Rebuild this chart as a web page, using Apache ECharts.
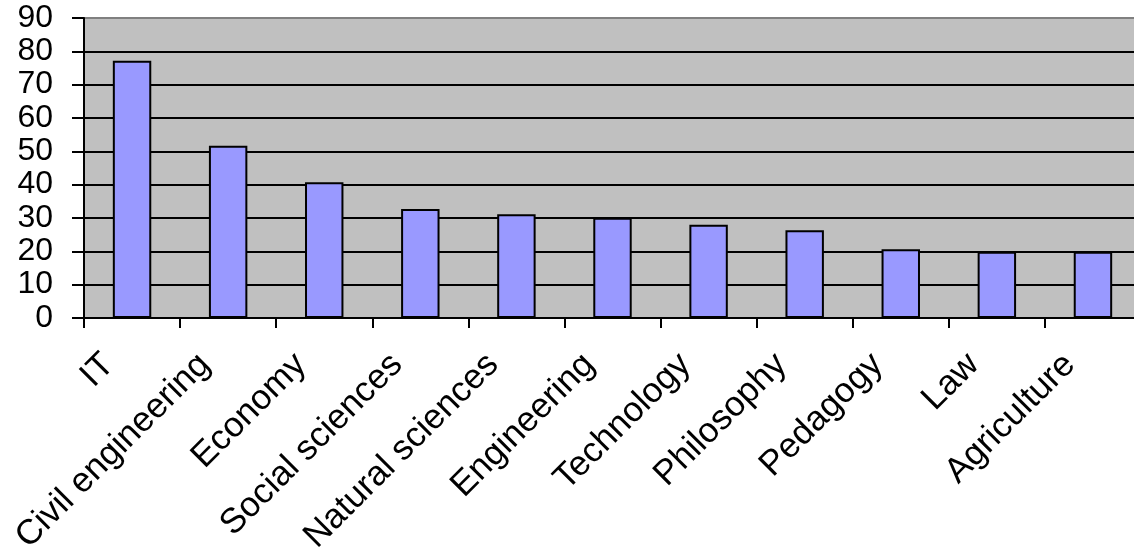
<!DOCTYPE html>
<html>
<head>
<meta charset="utf-8">
<script src="https://cdn.jsdelivr.net/npm/echarts@6/dist/echarts.min.js"></script>
<style>
  html, body { margin: 0; padding: 0; background: #ffffff; }
  #chart { width: 1134px; height: 554px; }
</style>
</head>
<body>
<div id="chart"></div>
<script>
// Subject areas and their values
const categories = ['IT', 'Civil engineering', 'Economy', 'Social sciences', 'Natural sciences',
  'Engineering', 'Technology', 'Philosophy', 'Pedagogy', 'Law', 'Agriculture'];
const values = [77.2, 51.7, 40.7, 32.7, 31.1, 30.1, 28.0, 26.3, 20.6, 19.9, 19.9];
const yTicks = [0, 10, 20, 30, 40, 50, 60, 70, 80, 90];

const font = 'Liberation Sans, Arial, sans-serif';
const chart = echarts.init(document.getElementById('chart'), null, { renderer: 'canvas' });

chart.setOption({
  animation: false,
  backgroundColor: '#ffffff',
  grid: {
    left: 84, top: 18, right: -7, bottom: 236,
    containLabel: false,
    outerBoundsMode: 'none',
    show: true,
    backgroundColor: '#c0c0c0',
    borderColor: '#808080',
    borderWidth: 2
  },
  xAxis: {
    type: 'category',
    data: categories,
    axisLine: { show: true, lineStyle: { color: '#000', width: 2 } },
    axisTick: { show: true, length: 10, alignWithLabel: false, lineStyle: { color: '#000', width: 2 } },
    axisLabel: {
      interval: 0,
      rotate: 45,
      margin: 18,
      padding: [0, 33, 0, 0],
      color: '#000',
      fontFamily: font,
      fontSize: 35
    },
    splitLine: { show: false }
  },
  yAxis: {
    type: 'value',
    min: yTicks[0],
    max: yTicks[yTicks.length - 1],
    interval: yTicks[1] - yTicks[0],
    axisLine: { show: true, lineStyle: { color: '#000', width: 2 } },
    axisTick: { show: true, length: 12, lineStyle: { color: '#000', width: 2 } },
    axisLabel: {
      margin: 31,
      color: '#000',
      fontFamily: font,
      fontSize: 32,
      formatter: v => (yTicks.includes(v) ? String(v) : '')
    },
    splitLine: { show: true, showMaxLine: false, lineStyle: { color: '#000', width: 2 } }
  },
  series: [{
    type: 'bar',
    data: values,
    barCategoryGap: '60%',
    itemStyle: { color: '#9999ff', borderColor: '#000', borderWidth: 2 }
  }]
});
</script>
</body>
</html>
